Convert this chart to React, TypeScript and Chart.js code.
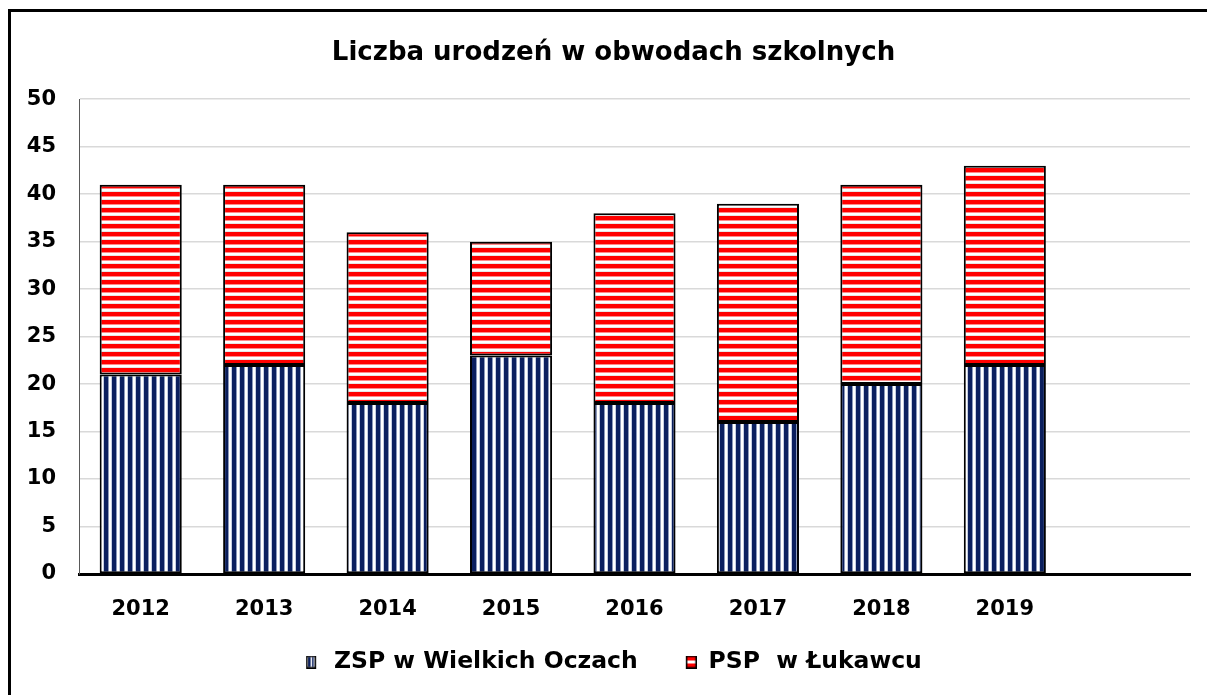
import React, { useEffect, useRef } from 'react';
import { Chart, registerables } from 'chart.js';

Chart.register(...registerables);

const chartTitle = 'Liczba urodzeń w obwodach szkolnych';
const categories = ['2012', '2013', '2014', '2015', '2016', '2017', '2018', '2019', ''];
const seriesNames = ['ZSP w Wielkich Oczach', 'PSP  w Łukawcu'];
const zspValues: (number | null)[] = [21, 22, 18, 23, 18, 16, 20, 22, null];
const pspValues: (number | null)[] = [20, 19, 18, 12, 20, 23, 21, 21, null];
const yMin = 0;
const yMax = 50;
const yStep = 5;

const FONT = "'DejaVu Sans', Verdana, sans-serif";
const NAVY = '#0b1f5e';
const RED = '#ff0000';

function makeCanvas(w: number, h: number, draw: (ctx: CanvasRenderingContext2D) => void) {
  const c = document.createElement('canvas');
  c.width = w;
  c.height = h;
  const ctx = c.getContext('2d') as CanvasRenderingContext2D;
  draw(ctx);
  return c;
}

export default function App() {
  const canvasRef = useRef<HTMLCanvasElement | null>(null);

  useEffect(() => {
    const canvas = canvasRef.current;
    if (!canvas) return;
    const ctx = canvas.getContext('2d') as CanvasRenderingContext2D;

    const blueTile = makeCanvas(8, 8, (c) => {
      c.fillStyle = '#ffffff';
      c.fillRect(0, 0, 8, 8);
      c.fillStyle = NAVY;
      c.fillRect(0, 0, 4, 8);
      c.fillStyle = '#8d9aba';
      c.fillRect(4, 0, 1, 8);
      c.fillStyle = '#c5cde0';
      c.fillRect(7, 0, 1, 8);
    });
    const redTile = makeCanvas(8, 8, (c) => {
      c.fillStyle = '#ffffff';
      c.fillRect(0, 0, 8, 8);
      c.fillStyle = RED;
      c.fillRect(0, 0, 8, 4);
      c.fillStyle = '#ff8a8a';
      c.fillRect(0, 4, 8, 1);
      c.fillStyle = '#e6e6e6';
      c.fillRect(0, 7, 8, 1);
    });
    const bluePattern = ctx.createPattern(blueTile, 'repeat') as CanvasPattern;
    const redPattern = ctx.createPattern(redTile, 'repeat') as CanvasPattern;

    const ICON_W = 30;
    const zspIcon = makeCanvas(ICON_W, 13, (c) => {
      const ox = 14;
      c.fillStyle = '#ffffff';
      c.fillRect(ox, 0, 10, 13);
      c.fillStyle = NAVY;
      c.fillRect(ox + 2, 1.5, 2.5, 10);
      c.fillRect(ox + 6, 1.5, 1.5, 10);
      c.lineWidth = 1.5;
      c.strokeStyle = '#000';
      c.strokeRect(ox + 0.75, 0.75, 8.5, 11.5);
    });
    const pspIcon = makeCanvas(ICON_W, 13, (c) => {
      const ox = 19;
      c.fillStyle = '#ffffff';
      c.fillRect(ox, 0, 11, 13);
      c.fillStyle = RED;
      c.fillRect(ox + 1, 1, 9, 4);
      c.fillRect(ox + 1, 8, 9, 4);
      c.lineWidth = 1.5;
      c.strokeStyle = '#000';
      c.strokeRect(ox + 0.75, 0.75, 9.5, 11.5);
    });
    const icons = [zspIcon, pspIcon];

    Chart.defaults.font.family = FONT;
    Chart.defaults.color = '#000';

    const titleShift = {
      id: 'titleShift',
      afterLayout(ch: any) {
        if (ch.titleBlock) {
          ch.titleBlock.left = 37;
        }
      },
    };

    const chart = new Chart(ctx, {
      type: 'bar',
      data: {
        labels: categories,
        datasets: [
          {
            label: seriesNames[0],
            data: zspValues,
            backgroundColor: bluePattern,
            borderColor: '#000',
            borderWidth: 2,
            borderSkipped: false,
            categoryPercentage: 1,
            barPercentage: 0.665,
          },
          {
            label: seriesNames[1],
            data: pspValues,
            backgroundColor: redPattern,
            borderColor: '#000',
            borderWidth: 2,
            borderSkipped: false,
            categoryPercentage: 1,
            barPercentage: 0.665,
          },
        ],
      },
      plugins: [titleShift],
      options: {
        animation: false,
        responsive: false,
        maintainAspectRatio: false,
        layout: { padding: { left: 24, right: 17, top: 0, bottom: 11.25 } },
        plugins: {
          title: {
            display: true,
            text: chartTitle,
            color: '#000',
            font: { size: 26, weight: 'bold', family: FONT },
            padding: { top: 38, bottom: 30 },
          },
          legend: {
            display: true,
            position: 'bottom',
            labels: {
              usePointStyle: true,
              pointStyleWidth: ICON_W,
              padding: 29,
              color: '#000',
              font: { size: 23.5, weight: 'bold', family: FONT },
              generateLabels: (ch: any) => {
                const items = (Chart.defaults.plugins.legend.labels as any).generateLabels(ch);
                items.forEach((it: any, i: number) => {
                  it.pointStyle = icons[i];
                });
                return items;
              },
            },
          },
          tooltip: { enabled: false },
        },
        scales: {
          x: {
            stacked: true,
            grid: { display: false },
            border: { color: '#000', width: 3 },
            ticks: {
              padding: 15,
              color: '#000',
              font: { size: 21, weight: 'bold', family: FONT },
              maxRotation: 0,
              autoSkip: false,
            },
            afterFit: (s: any) => {
              s.height = 47.25;
            },
          },
          y: {
            stacked: true,
            min: yMin,
            max: yMax,
            ticks: {
              stepSize: yStep,
              padding: 23,
              color: '#000',
              font: { size: 21, weight: 'bold', family: FONT },
            },
            grid: { color: '#d9d9d9', lineWidth: 1.5, drawTicks: false },
            border: { color: '#595959', width: 1 },
            afterFit: (s: any) => {
              s.width = 55;
            },
          },
        },
      } as any,
    });

    return () => {
      chart.destroy();
    };
  }, []);

  return (
    <div style={{ position: 'fixed', left: 0, top: 0, width: 1207, height: 695, overflow: 'hidden', background: '#fff' }}>
      <div
        style={{
          position: 'absolute',
          left: 8,
          top: 9,
          width: 1400,
          height: 900,
          border: '3px solid #000',
          boxSizing: 'border-box',
        }}
      />
      <canvas
        ref={canvasRef}
        width={1207}
        height={695}
        style={{ position: 'absolute', left: 0, top: 0, width: 1207, height: 695, display: 'block' }}
      />
    </div>
  );
}
